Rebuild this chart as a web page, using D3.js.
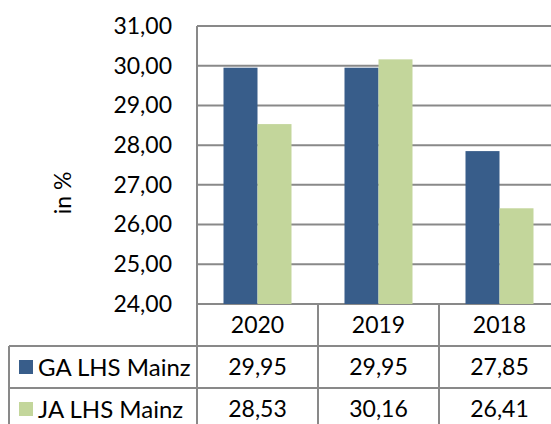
<!DOCTYPE html>
<html>
<head>
<meta charset="utf-8">
<script src="https://cdn.jsdelivr.net/npm/d3@7"></script>
<style>
  body { margin: 0; background: #fff; }
  text { font-family: Lato, "Open Sans", sans-serif; fill: #000; }
</style>
</head>
<body>
<div id="chart"></div>
<script>
// chart data
const years = ["2020", "2019", "2018"];
const series = ["GA LHS Mainz", "JA LHS Mainz"];
const gaValues = [29.95, 29.95, 27.85];
const jaValues = [28.53, 30.16, 26.41];
const yTicks = [24, 25, 26, 27, 28, 29, 30, 31];
const colors = ["#385D8A", "#C3D69B"];

const width = 551;
const height = 424;
const plot = {left: 197, right: 560, top: 26, bottom: 304};
const rowH = 42;
const tableLeft = 9;
const fontSize = 23;

const fmt = v => d3.format(".2f")(v).replace(".", ",");

const svg = d3.select("#chart")
    .append("svg")
    .attr("width", width)
    .attr("height", height);

// scales
var y = d3.scaleLinear()
    .domain([24, 31])
    .range([plot.bottom, plot.top]);

var x = d3.scaleBand()
    .domain(years)
    .range([plot.left, plot.right]);

var x_inner = d3.scaleBand()
    .domain(series)
    .range([26.5, x.bandwidth() - 26.5]);

var color = d3.scaleOrdinal().domain(series).range(colors);

// gridlines
svg.append("g")
    .selectAll("line")
    .data(yTicks)
    .enter()
    .append("line")
    .attr("x1", plot.left)
    .attr("x2", plot.right)
    .attr("y1", d => y(d))
    .attr("y2", d => y(d))
    .attr("stroke", "#898989")
    .attr("stroke-width", 2);

// y axis labels
var y_axis = d3.axisLeft(y)
    .tickValues(yTicks)
    .tickFormat(fmt)
    .tickSize(0)
    .tickPadding(25);

svg.append("g")
    .attr("class", "y axis")
    .attr("transform", `translate(${plot.left}, 0)`)
    .call(y_axis)
    .call(g => g.select(".domain").remove())
    .selectAll("text")
    .style("font-size", fontSize + "px")
    .attr("font-family", "Lato, sans-serif")
    .attr("fill", "#000");

svg.append("text")
    .attr("transform", "translate(71, 193) rotate(-90)")
    .attr("text-anchor", "middle")
    .style("font-size", fontSize + "px")
    .text("in %");

// bars
const rows = years.map((yr, i) => ({year: yr, values: [gaValues[i], jaValues[i]]}));

const groups = svg.append("g")
    .selectAll("g")
    .data(rows)
    .enter()
    .append("g")
    .attr("transform", d => `translate(${x(d.year)}, 0)`);

groups.selectAll("rect")
    .data(d => d.values.map((v, k) => ({name: series[k], value: v})))
    .enter()
    .append("rect")
    .attr("x", d => x_inner(d.name))
    .attr("width", x_inner.bandwidth())
    .attr("y", d => y(d.value))
    .attr("height", d => y(24) - y(d.value))
    .attr("fill", d => color(d.name));

// data table
const table = svg.append("g").attr("stroke", "#898989").attr("stroke-width", 2);
const tBottom = plot.bottom + rowH * 3;

// vertical lines
table.append("line")
    .attr("x1", plot.left).attr("x2", plot.left)
    .attr("y1", plot.top).attr("y2", tBottom);
table.append("line")
    .attr("x1", tableLeft).attr("x2", tableLeft)
    .attr("y1", plot.bottom + rowH).attr("y2", tBottom);
years.slice(1).forEach(yr => {
    table.append("line")
        .attr("x1", x(yr)).attr("x2", x(yr))
        .attr("y1", plot.bottom).attr("y2", tBottom);
});
// horizontal lines
[1, 2, 3].forEach(r => {
    table.append("line")
        .attr("x1", tableLeft).attr("x2", plot.right)
        .attr("y1", plot.bottom + rowH * r).attr("y2", plot.bottom + rowH * r);
});

// header
svg.append("g")
    .selectAll("text")
    .data(years)
    .enter()
    .append("text")
    .attr("x", d => x(d) + x.bandwidth() / 2)
    .attr("y", plot.bottom + rowH / 2)
    .attr("dy", "0.36em")
    .attr("text-anchor", "middle")
    .style("font-size", fontSize + "px")
    .text(d => d);

// rows
[gaValues, jaValues].forEach((vals, k) => {
    const cy = plot.bottom + rowH * (k + 1) + rowH / 2;
    svg.append("rect")
        .attr("x", 19)
        .attr("y", cy - 7)
        .attr("width", 14)
        .attr("height", 14)
        .attr("fill", colors[k]);
    svg.append("text")
        .attr("x", 38)
        .attr("y", cy)
        .attr("dy", "0.36em")
        .style("font-size", "24px")
        .text(series[k]);
    svg.append("g")
        .selectAll("text")
        .data(vals)
        .enter()
        .append("text")
        .attr("x", (d, i) => x(years[i]) + x.bandwidth() / 2)
        .attr("y", cy)
        .attr("dy", "0.36em")
        .attr("text-anchor", "middle")
        .style("font-size", fontSize + "px")
        .text(fmt);
});
</script>
</body>
</html>
